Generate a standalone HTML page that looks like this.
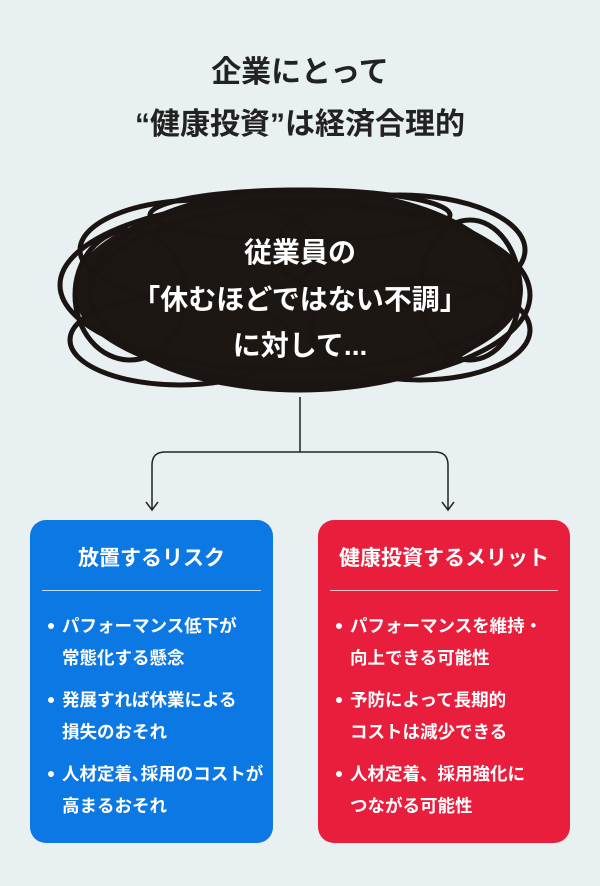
<!DOCTYPE html>
<html><head><meta charset="utf-8"><style>
body{margin:0;width:600px;height:886px;background:#e9f0f2;font-family:"Liberation Sans","Noto Sans CJK JP",sans-serif;position:relative;overflow:hidden}
.t{position:absolute;left:0;width:600px;text-align:center;font-weight:bold;color:#222;font-size:30px;line-height:36px}
.box{position:absolute;top:520px;height:323px;border-radius:16px;color:#fff}
.box h3{margin:0;position:absolute;top:22px;left:0;right:0;text-align:center;font-size:21px;font-weight:bold;white-space:nowrap}
.box hr{position:absolute;top:70px;left:12px;right:12px;margin:0;border:0;border-top:1px solid rgba(255,255,255,.75)}
.box ul{position:absolute;top:90px;left:16px;right:0;margin:0;padding:0;list-style:none;font-size:17.5px;font-weight:bold;line-height:32px;white-space:nowrap}
.box li{padding-left:16px;position:relative;margin-bottom:10px}
.box li:before{content:"";position:absolute;left:2px;top:13px;width:6px;height:6px;border-radius:50%;background:#fff}
.c{position:absolute;left:0;width:600px;text-align:center;color:#fff;font-weight:bold;font-size:28px;line-height:34px}
</style></head><body>
<div class="t" style="top:55px">企業にとって</div>
<div class="t" style="top:107px">“健康投資”は経済合理的</div>
<svg style="position:absolute;left:0;top:0" width="600" height="886">
<g fill="none" stroke="#1a1512" stroke-width="5">
<ellipse cx="298" cy="290" rx="225" ry="95" fill="#1c1713" stroke="none"/>
<ellipse cx="300" cy="290" rx="210" ry="100" fill="#1c1713"/>
<ellipse cx="290" cy="285" rx="230" ry="85"/>
<ellipse cx="310" cy="295" rx="220" ry="90"/>
<ellipse cx="200" cy="250" rx="120" ry="50"/>
<ellipse cx="400" cy="250" rx="125" ry="55"/>
<ellipse cx="180" cy="340" rx="110" ry="45"/>
<ellipse cx="420" cy="330" rx="110" ry="50"/>
<ellipse cx="300" cy="215" rx="150" ry="25"/>
<ellipse cx="470" cy="290" rx="50" ry="70"/>
<ellipse cx="130" cy="295" rx="55" ry="65"/>
</g>
<g fill="none" stroke="#222" stroke-width="1.5">
<path d="M300 397V452M300 452H165Q152 452 152 465V510M300 452H435Q448 452 448 465V510"/>
<path d="M146 502L152 510L158 502M442 502L448 510L454 502"/>
</g>
</svg>
<div class="c" style="top:236px">従業員の</div>
<div class="c" style="top:283px">「休むほどではない不調」</div>
<div class="c" style="top:329px">に対して...</div>
<div class="box" style="left:30px;width:243px;background:#0b78e3">
<h3>放置するリスク</h3><hr>
<ul><li>パフォーマンス低下が<br>常態化する懸念</li><li>発展すれば休業による<br>損失のおそれ</li><li>人材定着､採用のコストが<br>高まるおそれ</li></ul></div>
<div class="box" style="left:318px;width:252px;background:#e81e3c">
<h3>健康投資するメリット</h3><hr>
<ul><li>パフォーマンスを維持・<br>向上できる可能性</li><li>予防によって長期的<br>コストは減少できる</li><li>人材定着、採用強化に<br>つながる可能性</li></ul></div>
</body></html>
